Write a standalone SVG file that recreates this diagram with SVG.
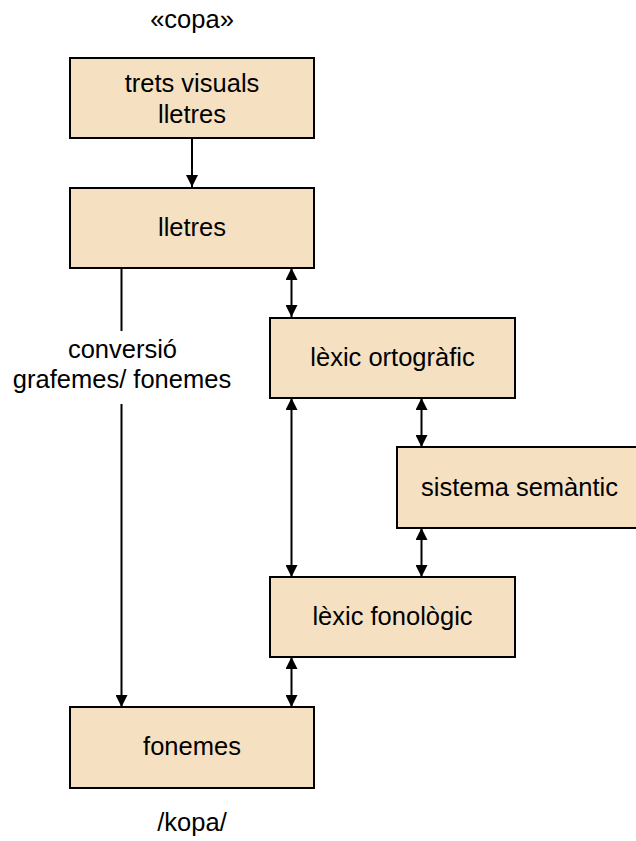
<svg xmlns="http://www.w3.org/2000/svg" width="636" height="841" viewBox="0 0 636 841">
  <style>
    .box { fill: #f5e1c2; stroke: #000; stroke-width: 2; }
    .lbl { font-family: "Liberation Sans", Arial, sans-serif; font-size: 25.5px; fill: #000; text-anchor: middle; }
    .wire { stroke: #000; stroke-width: 2; fill: none; }
  </style>
  <defs>
    <marker id="head" viewBox="0 0 12 12" refX="12" refY="6" markerWidth="12" markerHeight="12" markerUnits="userSpaceOnUse" orient="auto-start-reverse">
      <path d="M0,0 L12,6 L0,12 Z" fill="#000"/>
    </marker>
  </defs>

  <rect width="636" height="841" fill="#fff"/>

  <text class="lbl" x="192" y="28">«copa»</text>
  <text class="lbl" x="192" y="831">/kopa/</text>

  <g id="connectors">
    <line class="wire" x1="192" y1="138" x2="192" y2="187" marker-end="url(#head)"/>
    <line class="wire" x1="291.5" y1="268" x2="291.5" y2="317" marker-start="url(#head)" marker-end="url(#head)"/>
    <line class="wire" x1="291.5" y1="398" x2="291.5" y2="577" marker-start="url(#head)" marker-end="url(#head)"/>
    <line class="wire" x1="421.5" y1="398" x2="421.5" y2="447" marker-start="url(#head)" marker-end="url(#head)"/>
    <line class="wire" x1="421.5" y1="528" x2="421.5" y2="577" marker-start="url(#head)" marker-end="url(#head)"/>
    <line class="wire" x1="291.5" y1="657" x2="291.5" y2="707" marker-start="url(#head)" marker-end="url(#head)"/>
    <line class="wire" x1="121.5" y1="268" x2="121.5" y2="331"/>
    <line class="wire" x1="121.5" y1="404" x2="121.5" y2="707" marker-end="url(#head)"/>
    <text class="lbl" x="122.5" y="358">conversió</text>
    <text class="lbl" x="122" y="388">grafemes/ fonemes</text>
  </g>

  <g id="trets">
    <rect class="box" x="70" y="58" width="244" height="80"/>
    <text class="lbl" x="192" y="92">trets visuals</text>
    <text class="lbl" x="192" y="123">lletres</text>
  </g>
  <g id="lletres">
    <rect class="box" x="70" y="188" width="244" height="80"/>
    <text class="lbl" x="192" y="236">lletres</text>
  </g>
  <g id="lexic-ortografic">
    <rect class="box" x="270" y="318" width="245" height="80"/>
    <text class="lbl" x="392.5" y="366">lèxic ortogràfic</text>
  </g>
  <g id="sistema-semantic">
    <rect class="box" x="397" y="447" width="242" height="81"/>
    <text class="lbl" x="519.5" y="496">sistema semàntic</text>
  </g>
  <g id="lexic-fonologic">
    <rect class="box" x="270" y="577" width="245" height="80"/>
    <text class="lbl" x="392.5" y="625">lèxic fonològic</text>
  </g>
  <g id="fonemes">
    <rect class="box" x="70" y="707" width="244" height="81"/>
    <text class="lbl" x="192" y="755">fonemes</text>
  </g>
</svg>
